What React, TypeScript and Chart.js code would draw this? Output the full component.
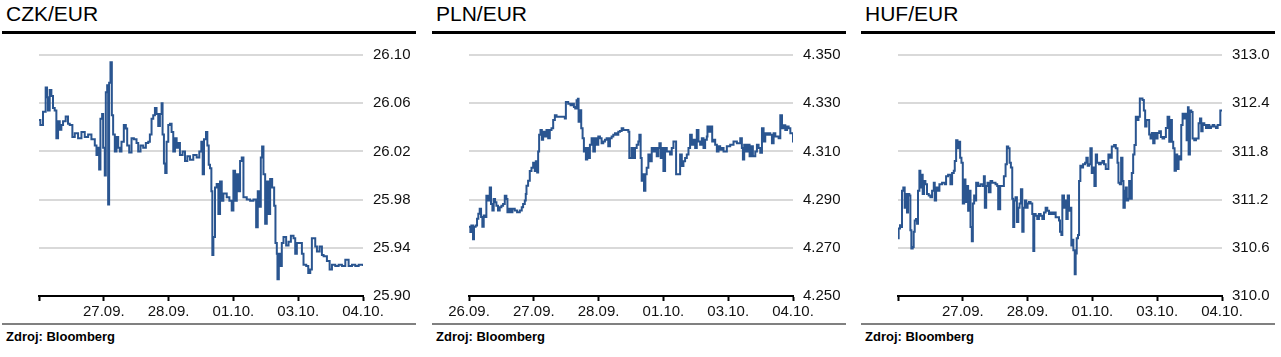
import React, { useEffect, useRef } from 'react';
import { Chart, registerables } from 'chart.js';

Chart.register(...registerables);

// ---------- DATA ----------
// time in trading days from the start of the window (0 = 26.09. open, 5 = 04.10.)
const czkTimes = [0.000,0.021,0.062,0.103,0.124,0.139,0.165,0.191,0.216,0.242,0.268,0.294,0.320,0.345,0.371,0.412,0.448,0.474,0.515,0.552,0.603,0.655,0.706,0.758,0.809,0.861,0.887,0.912,0.928,0.948,0.974,0.990,1.015,1.031,1.052,1.067,1.082,1.103,1.124,1.144,1.170,1.196,1.222,1.247,1.273,1.309,1.340,1.361,1.392,1.428,1.464,1.505,1.531,1.567,1.608,1.649,1.686,1.711,1.737,1.763,1.789,1.814,1.840,1.866,1.892,1.907,1.928,1.948,1.969,1.995,2.021,2.046,2.072,2.098,2.124,2.149,2.175,2.216,2.253,2.289,2.330,2.381,2.433,2.474,2.505,2.526,2.546,2.577,2.598,2.619,2.639,2.660,2.675,2.691,2.716,2.742,2.768,2.794,2.820,2.845,2.897,2.938,2.974,3.000,3.026,3.052,3.077,3.103,3.129,3.155,3.206,3.258,3.309,3.351,3.376,3.402,3.423,3.443,3.464,3.490,3.515,3.541,3.567,3.598,3.629,3.649,3.670,3.680,3.701,3.722,3.747,3.773,3.814,3.851,3.887,3.928,3.954,3.979,4.021,4.057,4.082,4.124,4.155,4.186,4.211,4.237,4.263,4.289,4.330,4.366,4.392,4.443,4.485,4.521,4.572,4.624,4.675,4.727,4.778,4.830,4.881,4.933,5.000];
const czkValues = [26.046,26.042,26.053,26.073,26.065,26.054,26.071,26.066,26.056,26.054,26.031,26.045,26.038,26.042,26.045,26.049,26.043,26.042,26.032,26.035,26.031,26.036,26.032,26.034,26.030,26.025,26.017,26.023,26.005,26.047,26.051,26.023,26.000,26.069,26.075,25.976,26.077,26.094,26.050,26.034,26.020,26.032,26.023,26.020,26.028,26.042,26.039,26.025,26.019,26.031,26.030,26.027,26.020,26.025,26.023,26.027,26.028,26.034,26.047,26.050,26.056,26.051,26.041,26.051,26.060,26.034,26.010,26.002,26.028,26.042,26.043,26.036,26.020,26.031,26.023,26.027,26.017,26.020,26.012,26.016,26.013,26.017,26.015,26.020,26.028,26.001,26.030,26.036,26.025,26.009,26.006,25.987,25.934,25.949,25.990,25.993,25.968,25.995,25.979,25.985,25.982,25.979,25.971,26.004,25.979,26.001,25.987,26.012,26.015,25.982,25.980,25.979,25.980,25.957,25.987,25.974,26.015,26.024,26.001,25.960,25.995,25.968,25.997,25.990,25.975,25.944,25.935,25.914,25.935,25.925,25.944,25.949,25.942,25.945,25.950,25.948,25.935,25.944,25.944,25.935,25.926,25.925,25.919,25.922,25.948,25.948,25.941,25.937,25.941,25.934,25.933,25.929,25.922,25.926,25.925,25.926,25.925,25.930,25.925,25.926,25.925,25.926,25.925];

const plnTimes = [0.000,0.021,0.036,0.062,0.077,0.103,0.124,0.144,0.165,0.186,0.206,0.227,0.247,0.268,0.294,0.320,0.340,0.361,0.381,0.402,0.423,0.448,0.474,0.500,0.526,0.552,0.577,0.593,0.619,0.639,0.670,0.706,0.742,0.784,0.814,0.835,0.861,0.876,0.887,0.912,0.938,0.964,0.990,1.015,1.031,1.052,1.067,1.082,1.103,1.124,1.144,1.170,1.196,1.222,1.247,1.273,1.299,1.325,1.351,1.402,1.454,1.479,1.495,1.531,1.567,1.598,1.619,1.639,1.660,1.680,1.691,1.711,1.732,1.753,1.773,1.789,1.804,1.825,1.845,1.866,1.892,1.918,1.943,1.969,1.995,2.021,2.046,2.072,2.098,2.124,2.149,2.175,2.201,2.227,2.253,2.278,2.304,2.330,2.356,2.381,2.433,2.459,2.474,2.510,2.536,2.562,2.588,2.613,2.629,2.649,2.665,2.680,2.701,2.722,2.742,2.768,2.794,2.820,2.845,2.871,2.897,2.923,2.938,2.959,2.979,3.000,3.026,3.052,3.077,3.103,3.129,3.155,3.180,3.196,3.232,3.258,3.284,3.309,3.335,3.361,3.387,3.412,3.438,3.464,3.490,3.515,3.541,3.567,3.593,3.619,3.644,3.670,3.680,3.711,3.732,3.753,3.773,3.799,3.825,3.851,3.876,3.902,3.928,3.979,4.031,4.082,4.134,4.186,4.211,4.227,4.247,4.278,4.299,4.330,4.351,4.381,4.418,4.443,4.469,4.495,4.521,4.546,4.572,4.598,4.624,4.649,4.675,4.701,4.727,4.753,4.778,4.804,4.830,4.856,4.881,4.907,4.933,4.959,5.000];
const plnValues = [4.2787,4.2766,4.2793,4.2735,4.2787,4.2793,4.2821,4.2841,4.2862,4.2828,4.2787,4.2834,4.2828,4.2916,4.2896,4.2950,4.2882,4.2855,4.2903,4.2889,4.2875,4.2855,4.2868,4.2875,4.2882,4.2916,4.2903,4.2848,4.2862,4.2848,4.2862,4.2855,4.2848,4.2855,4.2868,4.2882,4.2896,4.2923,4.2957,4.2978,4.3019,4.3032,4.3053,4.3019,4.3059,4.3012,4.3100,4.3169,4.3189,4.3148,4.3182,4.3162,4.3189,4.3155,4.3189,4.3196,4.3230,4.3250,4.3244,4.3244,4.3244,4.3237,4.3305,4.3298,4.3291,4.3298,4.3284,4.3278,4.3312,4.3318,4.3223,4.3271,4.3196,4.3155,4.3100,4.3114,4.3066,4.3114,4.3073,4.3128,4.3155,4.3100,4.3155,4.3128,4.3162,4.3155,4.3134,4.3141,4.3148,4.3155,4.3121,4.3155,4.3162,4.3169,4.3175,4.3169,4.3182,4.3185,4.3196,4.3189,4.3189,4.3182,4.3073,4.3114,4.3073,4.3114,4.3128,4.3141,4.3169,4.3073,4.2978,4.3005,4.2937,4.3005,4.3032,4.3087,4.3059,4.3114,4.3100,4.3114,4.3080,4.3114,4.3134,4.3073,4.3114,4.3019,4.3114,4.3100,4.3100,4.3087,4.3114,4.3141,4.3141,4.3005,4.3005,4.3087,4.3039,4.3059,4.3073,4.3087,4.3114,4.3169,4.3128,4.3148,4.3114,4.3189,4.3141,4.3128,4.3155,4.3114,4.3148,4.3162,4.3203,4.3182,4.3203,4.3141,4.3148,4.3128,4.3100,4.3121,4.3107,4.3114,4.3100,4.3121,4.3128,4.3141,4.3134,4.3155,4.3114,4.3066,4.3128,4.3100,4.3128,4.3080,4.3121,4.3080,4.3100,4.3128,4.3114,4.3094,4.3196,4.3141,4.3175,4.3169,4.3175,4.3169,4.3134,4.3175,4.3162,4.3162,4.3155,4.3250,4.3196,4.3209,4.3189,4.3203,4.3196,4.3175,4.3137];

const hufTimes = [0.000,0.010,0.031,0.052,0.062,0.082,0.103,0.124,0.139,0.155,0.175,0.191,0.206,0.227,0.242,0.258,0.278,0.294,0.309,0.330,0.345,0.361,0.381,0.402,0.423,0.448,0.474,0.500,0.526,0.552,0.567,0.588,0.608,0.639,0.680,0.722,0.742,0.773,0.809,0.835,0.861,0.876,0.897,0.918,0.938,0.959,0.979,1.000,1.021,1.041,1.062,1.082,1.103,1.119,1.139,1.155,1.175,1.196,1.206,1.237,1.273,1.309,1.325,1.340,1.361,1.381,1.402,1.428,1.454,1.505,1.531,1.546,1.577,1.608,1.634,1.660,1.680,1.701,1.722,1.742,1.763,1.778,1.794,1.814,1.835,1.856,1.876,1.897,1.918,1.938,1.959,1.979,2.000,2.021,2.046,2.072,2.088,2.103,2.124,2.149,2.175,2.201,2.227,2.253,2.278,2.304,2.330,2.356,2.381,2.407,2.433,2.459,2.485,2.500,2.521,2.536,2.562,2.577,2.598,2.619,2.639,2.660,2.675,2.691,2.706,2.727,2.742,2.758,2.778,2.794,2.814,2.835,2.856,2.887,2.907,2.928,2.948,2.969,2.990,3.010,3.031,3.052,3.072,3.103,3.129,3.155,3.180,3.206,3.232,3.247,3.268,3.299,3.335,3.361,3.387,3.402,3.423,3.443,3.464,3.479,3.500,3.515,3.531,3.552,3.567,3.593,3.608,3.629,3.649,3.670,3.691,3.711,3.732,3.753,3.773,3.794,3.814,3.835,3.856,3.876,3.897,3.918,3.938,3.959,3.979,4.005,4.031,4.057,4.082,4.108,4.134,4.160,4.186,4.206,4.227,4.247,4.268,4.289,4.309,4.330,4.351,4.371,4.392,4.412,4.433,4.454,4.474,4.485,4.505,4.526,4.546,4.572,4.598,4.624,4.639,4.660,4.680,4.701,4.727,4.753,4.778,4.804,4.830,4.856,4.881,4.907,4.933,4.959,4.974,5.000];
const hufValues = [310.72,310.84,310.88,310.86,311.31,311.35,311.10,311.27,311.04,311.27,311.25,310.82,310.59,310.61,310.80,310.94,310.96,310.90,311.31,311.56,311.35,311.51,311.27,311.43,311.39,311.27,311.25,311.23,311.31,311.41,311.19,311.35,311.31,311.39,311.41,311.39,311.49,311.51,311.39,311.53,311.56,311.68,311.94,311.84,311.92,311.72,311.66,311.15,311.45,311.17,311.37,311.06,311.31,310.86,310.68,311.15,311.25,311.19,311.41,311.37,311.39,311.37,311.49,311.10,311.37,311.41,311.29,311.43,311.41,311.39,311.37,311.08,311.37,311.37,311.49,311.64,311.86,311.84,311.66,311.60,311.21,310.86,311.19,311.23,310.92,311.10,311.15,311.33,310.80,311.10,311.19,311.10,311.15,311.17,311.15,311.02,310.56,311.02,311.00,310.96,311.02,311.00,310.96,311.04,311.10,311.06,311.02,311.04,311.02,311.04,310.98,310.98,310.94,310.80,310.76,311.25,311.10,311.19,310.96,311.25,311.06,311.10,310.63,310.70,310.57,310.27,310.53,310.72,310.76,311.43,311.62,311.60,311.64,311.66,311.72,311.62,311.64,311.84,311.53,311.60,311.37,311.76,311.66,311.64,311.66,311.68,311.64,311.58,311.58,311.76,311.72,311.86,311.88,311.84,311.66,311.41,311.39,311.72,311.43,311.10,311.31,311.35,311.19,311.21,311.43,311.21,311.53,311.76,311.88,312.23,312.19,312.23,312.46,312.46,312.44,312.31,312.11,312.19,312.19,312.01,311.96,312.03,311.90,312.03,311.96,312.03,312.05,311.98,311.96,311.98,312.09,312.23,311.92,312.19,311.92,311.84,311.56,311.76,311.58,311.74,311.70,312.13,312.27,312.21,312.27,311.94,312.35,311.76,312.31,312.29,311.96,311.94,311.96,311.96,312.15,312.21,312.05,312.15,312.13,312.09,312.13,312.09,312.11,312.13,312.11,312.09,312.13,312.13,312.31,312.31];

const czkYTicks = [25.90, 25.94, 25.98, 26.02, 26.06, 26.10];
const plnYTicks = [4.25, 4.27, 4.29, 4.31, 4.33, 4.35];
const hufYTicks = [310.0, 310.6, 311.2, 311.8, 312.4, 313.0];

const dayTicks = [0, 1, 2, 3, 4, 5];
const czkDayLabels = ['', '27.09.', '28.09.', '01.10.', '03.10.', '04.10.'];
const plnDayLabels = ['26.09.', '27.09.', '28.09.', '01.10.', '03.10.', '04.10.'];
const hufDayLabels = ['', '27.09.', '28.09.', '01.10.', '03.10.', '04.10.'];

const titles = ['CZK/EUR', 'PLN/EUR', 'HUF/EUR'];
const sourceText = 'Zdroj: Bloomberg';

// ---------- STYLE ----------
const FONT = '"Liberation Sans", Arial, Helvetica, sans-serif';
const LINE_COLOR = '#2a5590';
const GRID_COLOR = '#d9d9d9';
const TEXT_COLOR = '#111111';
const PANEL_W = 414;
const CANVAS_TOP = 36;
const CANVAS_H = 286;

type PanelProps = {
  title: string;
  times: number[];
  values: number[];
  yTicks: number[];
  decimals: number;
  dayLabels: string[];
  left: number;
};

function Panel({ title, times, values, yTicks, decimals, dayLabels, left }: PanelProps) {
  const ref = useRef<HTMLCanvasElement | null>(null);

  useEffect(() => {
    if (!ref.current) return;
    const chart = new Chart(ref.current, {
      type: 'line',
      data: {
        datasets: [
          {
            data: times.map((t, i) => ({ x: t, y: values[i] })),
            borderColor: LINE_COLOR,
            borderWidth: 2,
            pointRadius: 0,
            tension: 0,
            stepped: true,
            fill: false,
          },
        ],
      },
      options: {
        animation: false,
        responsive: false,
        maintainAspectRatio: false,
        layout: { padding: { left: 37, right: 0, top: 15, bottom: 0 } },
        plugins: { legend: { display: false }, tooltip: { enabled: false } },
        scales: {
          x: {
            type: 'linear',
            min: dayTicks[0],
            max: dayTicks[dayTicks.length - 1],
            afterBuildTicks: (s: any) => {
              s.ticks = dayTicks.map((v) => ({ value: v }));
            },
            afterFit: (s: any) => {
              s.height = 26;
            },
            ticks: {
              autoSkip: false,
              maxRotation: 0,
              minRotation: 0,
              padding: 2,
              color: TEXT_COLOR,
              font: { family: FONT, size: 15 },
              callback: (_v: any, i: number) => dayLabels[i],
            },
            grid: {
              drawOnChartArea: false,
              drawTicks: true,
              tickLength: 5,
              tickColor: '#000',
              tickWidth: 2,
            },
            border: { display: true, color: '#000', width: 2 },
          },
          y: {
            type: 'linear',
            position: 'right',
            min: yTicks[0],
            max: yTicks[yTicks.length - 1],
            afterBuildTicks: (s: any) => {
              s.ticks = yTicks.map((v) => ({ value: v }));
            },
            afterFit: (s: any) => {
              s.width = 53;
            },
            ticks: {
              padding: 10,
              color: TEXT_COLOR,
              font: { family: FONT, size: 15 },
              callback: (v: any) => Number(v).toFixed(decimals),
            },
            grid: { color: GRID_COLOR, lineWidth: 2, drawTicks: false },
            border: { display: false },
          },
        },
      } as any,
    });
    return () => chart.destroy();
  }, [times, values, yTicks, decimals, dayLabels]);

  return (
    <div style={{ position: 'absolute', left, top: 0, width: PANEL_W, height: 357 }}>
      <div
        style={{
          position: 'absolute',
          left: 4,
          top: 3,
          fontFamily: FONT,
          fontSize: 21,
          lineHeight: '21px',
          color: '#000',
          whiteSpace: 'nowrap',
        }}
      >
        {title}
      </div>
      <div style={{ position: 'absolute', left: 0, top: 31, width: PANEL_W, height: 3, background: '#000' }} />
      <canvas
        ref={ref}
        width={PANEL_W}
        height={CANVAS_H}
        style={{ position: 'absolute', left: 0, top: CANVAS_TOP, width: PANEL_W, height: CANVAS_H }}
      />
      <div style={{ position: 'absolute', left: 0, top: 323, width: PANEL_W, height: 2, background: '#808080' }} />
      <div
        style={{
          position: 'absolute',
          left: 4,
          top: 330,
          fontFamily: FONT,
          fontSize: 13,
          fontWeight: 'bold',
          lineHeight: '13px',
          color: '#000',
          whiteSpace: 'nowrap',
        }}
      >
        {sourceText}
      </div>
    </div>
  );
}

export default function App() {
  return (
    <div style={{ position: 'absolute', left: 0, top: 0, width: 1281, height: 357, background: '#fff', overflow: 'hidden' }}>
      <Panel title={titles[0]} times={czkTimes} values={czkValues} yTicks={czkYTicks} decimals={2} dayLabels={czkDayLabels} left={2} />
      <Panel title={titles[1]} times={plnTimes} values={plnValues} yTicks={plnYTicks} decimals={3} dayLabels={plnDayLabels} left={432} />
      <Panel title={titles[2]} times={hufTimes} values={hufValues} yTicks={hufYTicks} decimals={1} dayLabels={hufDayLabels} left={861} />
    </div>
  );
}
